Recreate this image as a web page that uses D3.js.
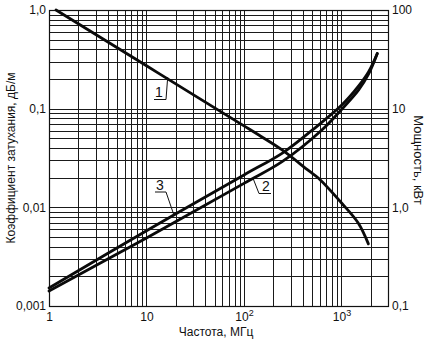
<!DOCTYPE html>
<html>
<head>
<meta charset="utf-8">
<script src="https://cdn.jsdelivr.net/npm/d3@7"></script>
<style>
  html, body { margin: 0; padding: 0; background: #fff; }
  svg { display: block; }
  text { font-family: "Liberation Sans", Arial, sans-serif; fill: #111; }
</style>
</head>
<body>
<svg id="chart" width="431" height="344"></svg>
<script>
// Frequency axis (MHz) ticks and labels
const freqTicks = [1, 10, 100, 1000];
const freqTickLabels = [["1", ""], ["10", ""], ["10", "2"], ["10", "3"]];

// Left axis: attenuation coefficient, dB/m
const attTicks = [0.001, 0.01, 0.1, 1];
const attTickLabels = ["0,001", "0,01", "0,1", "1,0"];

// Right axis: power, kW
const powTicks = [0.1, 1, 10, 100];
const powTickLabels = ["0,1", "1,0", "10", "100"];

// Curve 1: transmitted power, kW
const curve1Freq = [1.18, 10, 50, 100, 142, 246, 461, 582, 1007, 1490, 1888];
const curve1Power = [100, 27.2, 10.2, 6.7, 5.41, 3.82, 2.35, 1.97, 1.10, 0.69, 0.426];

// Curve 2: attenuation, dB/m
const curve2Freq = [1, 10, 100, 246, 629, 1000, 1500, 1900, 2330];
const curve2Att = [0.00142, 0.0049, 0.0175, 0.029, 0.0608, 0.098, 0.155, 0.225, 0.362];

// Curve 3: attenuation, dB/m
const curve3Freq = [1, 10, 100, 250, 500, 1000, 1500, 1900, 2330];
const curve3Att = [0.00152, 0.0058, 0.0213, 0.0357, 0.0605, 0.108, 0.170, 0.237, 0.362];

const svg = d3.select("#chart");
const plotL = 49, plotR = 388, plotT = 10, plotB = 306;

const x = d3.scaleLog().domain([1, 3000]).range([plotL, plotR]);
const yAtt = d3.scaleLog().domain([0.001, 1]).range([plotB, plotT]);
const yPow = d3.scaleLog().domain([0.1, 100]).range([plotB, plotT]);

// Logarithmic grid: 1..9 multiples in each decade
const xGrid = [];
for (let d = 1; d <= 1000; d *= 10) for (let m = 1; m <= 9; m++) {
  const v = d * m; if (v <= 3000) xGrid.push(v);
}
const yGrid = [];
for (let d = 0.001; d < 1; d *= 10) for (let m = 1; m <= 9; m++) yGrid.push(d * m);
yGrid.push(1);

const grid = svg.append("g").attr("stroke", "#1a1a1a").attr("stroke-width", 1).attr("shape-rendering", "crispEdges");
grid.selectAll("line.v").data(xGrid).join("line")
  .attr("x1", d => Math.round(x(d)) + 0.5).attr("x2", d => Math.round(x(d)) + 0.5)
  .attr("y1", plotT).attr("y2", plotB);
grid.selectAll("line.h").data(yGrid).join("line")
  .attr("y1", d => Math.round(yAtt(d)) + 0.5).attr("y2", d => Math.round(yAtt(d)) + 0.5)
  .attr("x1", plotL).attr("x2", plotR);
svg.append("rect").attr("x", plotL + 0.5).attr("y", plotT + 0.5)
  .attr("width", plotR - plotL).attr("height", plotB - plotT)
  .attr("fill", "none").attr("stroke", "#111").attr("stroke-width", 1.2);

// Axes drawn with d3 axis generators, domain lines and ticks hidden
const xAxis = d3.axisBottom(x).tickValues(freqTicks).tickSize(0).tickPadding(0).tickFormat(() => "");
const gx = svg.append("g").attr("transform", `translate(0,${plotB + 15})`).call(xAxis);
gx.select(".domain").remove();
gx.selectAll(".tick text").remove();
gx.selectAll(".tick").each(function(d, i) {
  const t = d3.select(this).append("text").attr("text-anchor", "middle")
    .attr("font-size", 12).attr("dy", 0);
  t.append("tspan").text(freqTickLabels[i][0]);
  if (freqTickLabels[i][1]) t.append("tspan").attr("dy", -5).attr("font-size", 9).text(freqTickLabels[i][1]);
});

const yAxisL = d3.axisLeft(yAtt).tickValues(attTicks).tickSize(0).tickPadding(3)
  .tickFormat((d, i) => attTickLabels[i]);
const gl = svg.append("g").attr("transform", `translate(${plotL},0)`).call(yAxisL);
gl.select(".domain").remove();
gl.selectAll(".tick text").attr("font-size", 12).attr("font-family", "Liberation Sans, Arial, sans-serif").attr("fill", "#111");

const yAxisR = d3.axisRight(yPow).tickValues(powTicks).tickSize(0).tickPadding(4)
  .tickFormat((d, i) => powTickLabels[i]);
const gr = svg.append("g").attr("transform", `translate(${plotR},0)`).call(yAxisR);
gr.select(".domain").remove();
gr.selectAll(".tick text").attr("font-size", 12).attr("font-family", "Liberation Sans, Arial, sans-serif").attr("fill", "#111");

// Axis titles
svg.append("text").attr("transform", `translate(15,${(plotT + plotB) / 2}) rotate(-90)`)
  .attr("text-anchor", "middle").attr("font-size", 12).text("Коэффициент затухания, дБ/м");
svg.append("text").attr("transform", `translate(414,160) rotate(90)`)
  .attr("text-anchor", "middle").attr("font-size", 13).text("Мощность, кВт");
svg.append("text").attr("x", 216).attr("y", 336)
  .attr("text-anchor", "middle").attr("font-size", 12).text("Частота, МГц");

// Curves
const curves = svg.append("g").attr("fill", "none").attr("stroke", "#0a0a0a")
  .attr("stroke-width", 2.8).attr("stroke-linecap", "round");
const line = (ys) => d3.line().x(d => x(d[0])).y(d => ys(d[1])).curve(d3.curveCatmullRom.alpha(0.5));
curves.append("path").attr("d", line(yPow)(d3.zip(curve1Freq, curve1Power)));
curves.append("path").attr("d", line(yAtt)(d3.zip(curve2Freq, curve2Att)));
curves.append("path").attr("d", line(yAtt)(d3.zip(curve3Freq, curve3Att)));

// Curve labels with underline and leader lines
function callout(label, lx, ly, ux1, ux2, uy, fromX, toFreq, ys, toVal) {
  svg.append("rect").attr("x", lx - 5).attr("y", ly - 11).attr("width", 10).attr("height", 13).attr("fill", "#fff");
  svg.append("text").attr("x", lx).attr("y", ly).attr("text-anchor", "middle").attr("font-size", 14).text(label);
  const g = svg.append("g").attr("stroke", "#111").attr("stroke-width", 1);
  g.append("line").attr("x1", ux1).attr("x2", ux2).attr("y1", uy).attr("y2", uy);
  g.append("line").attr("x1", fromX).attr("y1", uy).attr("x2", x(toFreq)).attr("y2", ys(toVal));
}
callout("1", 159, 97, 154, 166, 99.5, 166, 16.5, yPow, 20.9);
callout("3", 160, 190, 155, 166, 192, 166, 19, yAtt, 0.0085);
callout("2", 266, 191, 259, 271, 193.5, 259, 124, yAtt, 0.0196);
</script>
</body>
</html>
